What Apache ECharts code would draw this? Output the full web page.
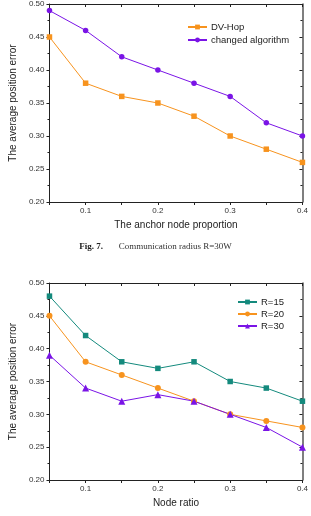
<!DOCTYPE html>
<html>
<head>
<meta charset="utf-8">
<script src="https://cdn.jsdelivr.net/npm/echarts@6/dist/echarts.min.js"></script>
<style>
  html, body {margin: 0; padding: 0; background: #fff;}
  #main {width: 311px; height: 516px;}
</style>
</head>
<body>
<div id="main"></div>
<script>
var xValues = [0.05, 0.1, 0.15, 0.2, 0.25, 0.3, 0.35, 0.4];

// Fig. 7
var dvHop = [0.45, 0.38, 0.36, 0.35, 0.33, 0.30, 0.28, 0.26];
var changedAlgorithm = [0.49, 0.46, 0.42, 0.40, 0.38, 0.36, 0.32, 0.30];

// second figure
var r15 = [0.48, 0.42, 0.38, 0.37, 0.38, 0.35, 0.34, 0.32];
var r20 = [0.45, 0.38, 0.36, 0.34, 0.32, 0.30, 0.29, 0.28];
var r30 = [0.39, 0.34, 0.32, 0.33, 0.32, 0.30, 0.28, 0.25];

var pairs = (ys) => xValues.map((x, i) => [x, ys[i]]);

var font = 'Liberation Sans, Arial, sans-serif';
var serif = 'Liberation Serif, Times New Roman, serif';
var axisColor = '#222';

var bottomX = (gi, name) => ({
  type: 'value', gridIndex: gi, min: 0.05, max: 0.4, interval: 0.05,
  name: name, nameLocation: 'middle', nameGap: 18,
  nameTextStyle: {fontFamily: font, fontSize: 10, color: '#222'},
  axisLine: {lineStyle: {color: axisColor, width: 1}},
  axisTick: {length: 3, lineStyle: {color: axisColor}},
  axisLabel: {
    fontFamily: font, fontSize: 8, color: '#333', margin: 5,
    formatter: (v) => Math.round(v * 100) % 10 === 0 ? v.toFixed(1) : ''
  },
  splitLine: {show: false}
});
var topX = (gi) => ({
  type: 'value', gridIndex: gi, position: 'top', min: 0.05, max: 0.4, interval: 0.05,
  axisLine: {lineStyle: {color: axisColor, width: 1}},
  axisTick: {inside: true, length: 3, lineStyle: {color: axisColor}},
  axisLabel: {show: false},
  splitLine: {show: false}
});
var leftY = (gi) => ({
  type: 'value', gridIndex: gi, min: 0.2, max: 0.5, interval: 0.05,
  name: 'The average position error', nameLocation: 'middle', nameGap: 28,
  nameTextStyle: {fontFamily: font, fontSize: 10, color: '#222'},
  axisLine: {show: true, lineStyle: {color: axisColor, width: 1}},
  axisTick: {show: true, length: 3, lineStyle: {color: axisColor}},
  minorTick: {show: true, splitNumber: 2, length: 2, lineStyle: {color: axisColor}},
  axisLabel: {fontFamily: font, fontSize: 8, color: '#333', margin: 5, formatter: (v) => v.toFixed(2)},
  splitLine: {show: false}
});
var rightY = (gi) => ({
  type: 'value', gridIndex: gi, position: 'right', min: 0.2, max: 0.5, interval: 0.05,
  axisLine: {show: true, lineStyle: {color: '#555', width: 1.5}},
  axisTick: {show: true, inside: true, length: 3, lineStyle: {color: axisColor}},
  minorTick: {show: true, splitNumber: 2, length: 2, lineStyle: {color: axisColor}},
  axisLabel: {show: false},
  splitLine: {show: false}
});

var line = (name, data, color, symbol, size, xi, yi) => ({
  name: name, type: 'line', data: pairs(data),
  xAxisIndex: xi, yAxisIndex: yi,
  symbol: symbol, symbolSize: size,
  itemStyle: {color: color},
  lineStyle: {color: color, width: 1},
  emphasis: {disabled: true}
});

var orange = '#F7931E';
var purple = '#7A14E6';
var teal = '#148A7D';

var legendBase = {
  orient: 'vertical', padding: 0,
  itemWidth: 19, itemHeight: 6,
  textStyle: {fontFamily: font, fontSize: 9.5, color: '#222', padding: [0, 0, 0, -1]}
};

var chart = echarts.init(document.getElementById('main'));
chart.setOption({
  animation: false,
  textStyle: {fontFamily: font},
  title: {
    text: '{b|Fig. 7.}       Communication radius R=30W',
    left: 'center', top: 242, padding: 0,
    textStyle: {
      fontFamily: serif, fontSize: 9, fontWeight: 'normal', color: '#333',
      rich: {b: {fontFamily: serif, fontSize: 9, fontWeight: 'bold', color: '#222'}}
    }
  },
  legend: [
    Object.assign({data: ['DV-Hop', 'changed algorithm'], left: 187, top: 22, itemGap: 3}, legendBase),
    Object.assign({data: ['R=15', 'R=20', 'R=30'], left: 237, top: 297, itemGap: 2}, legendBase)
  ],
  grid: [
    {left: 40, right: 7, top: 3, height: 199},
    {left: 40, right: 7, top: 283, height: 197}
  ],
  xAxis: [
    bottomX(0, 'The anchor node proportion'), topX(0),
    bottomX(1, 'Node ratio'), topX(1)
  ],
  yAxis: [leftY(0), rightY(0), leftY(1), rightY(1)],
  series: [
    line('DV-Hop', dvHop, orange, 'rect', 5.5, 0, 0),
    line('changed algorithm', changedAlgorithm, purple, 'circle', 5.5, 0, 0),
    line('R=15', r15, teal, 'rect', 5.5, 2, 2),
    line('R=20', r20, orange, 'circle', 6, 2, 2),
    line('R=30', r30, purple, 'triangle', 7, 2, 2)
  ]
});
</script>
</body>
</html>
